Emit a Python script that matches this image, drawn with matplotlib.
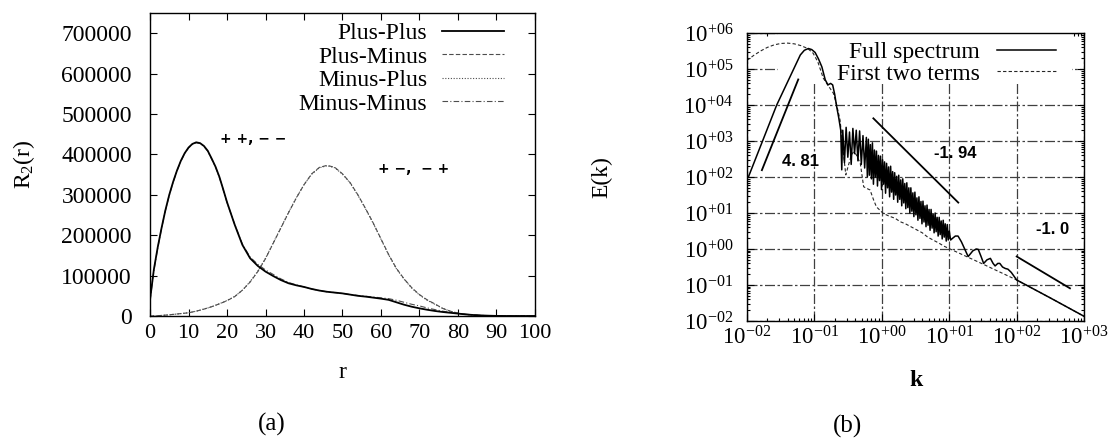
import numpy as np
import matplotlib.pyplot as plt
from matplotlib.patches import Rectangle
from matplotlib.ticker import LogLocator, FuncFormatter, NullFormatter, MultipleLocator

plt.rcParams['font.family'] = ['Liberation Serif', 'DejaVu Serif']
plt.rcParams['mathtext.fontset'] = 'custom'
plt.rcParams['mathtext.rm'] = 'Liberation Serif'
plt.rcParams['mathtext.it'] = 'Liberation Serif:italic'

# ---- panel (a): R2(r) ----
r = [0, 1, 2, 3, 4, 5, 6, 7, 8, 9, 10, 11, 12, 13, 14, 15, 16, 17, 18, 19, 20,
     22, 24, 26, 28, 30, 32, 34, 36, 38, 40, 42, 44, 46, 48, 50, 52, 54, 56, 58, 60,
     62, 64, 66, 68, 70, 72, 74, 76, 78, 80, 82, 84, 86, 88, 90, 92, 94, 96, 98, 100]

plus_plus = [40000, 115000, 170000, 218000, 262000, 300000, 332000, 360000, 384000, 403000, 417000,
             426000, 430000, 428000, 421000, 409000, 390000, 370000, 345000, 314000, 282000,
             226000, 176000, 143000, 124000, 110000, 99000, 89000, 81000, 76000, 72000,
             67000, 63000, 60000, 58000, 56000, 53000, 50000, 48000, 45500, 43000,
             40000, 34000, 28000, 23000, 19000, 15500, 12500, 10000, 8000, 6000,
             4000, 2500, 1500, 800, 300, 100, 0, 0, 0, 0]
minus_minus = [38000, 112000, 168000, 217000, 261000, 299000, 331000, 359000, 383000, 402000, 416000,
               425000, 429000, 427000, 420000, 408000, 389000, 369000, 344000, 313000, 281000,
               227000, 178000, 146000, 128000, 114000, 103000, 92000, 83000, 77000, 72000,
               67000, 63000, 60000, 58000, 56000, 53000, 51000, 49000, 47000, 45000,
               43000, 39000, 34000, 29000, 25000, 20000, 16000, 12000, 9000, 6500,
               4500, 2800, 1600, 800, 300, 100, 0, 0, 0, 0]
plus_minus = [0, 300, 800, 1500, 2200, 3000, 4000, 5000, 6000, 7000, 8000,
              10000, 12000, 14500, 17000, 20000, 23000, 26500, 30000, 34000, 38000,
              48000, 64000, 84000, 110000, 142000, 180000, 218000, 256000, 292000, 325000,
              352000, 368000, 373000, 368000, 352000, 330000, 300000, 266000, 230000, 191000,
              152000, 118000, 92000, 70000, 53000, 40000, 30000, 19000, 12000, 7000,
              4000, 2200, 1300, 700, 300, 100, 0, 0, 0, 0]
minus_plus = [0, 300, 800, 1500, 2200, 3000, 4000, 5000, 6000, 7000, 8200,
              10000, 12000, 14500, 17500, 20000, 23000, 26500, 30500, 34000, 38500,
              48500, 64000, 85000, 111000, 143000, 181000, 219000, 257000, 293000, 325000,
              351000, 367000, 372000, 367000, 351000, 329000, 299000, 265000, 229000, 190000,
              151000, 117000, 91000, 69000, 52000, 39000, 29000, 19000, 12000, 7000,
              4000, 2200, 1300, 700, 300, 100, 0, 0, 0, 0]

# ---- panel (b): E(k), values read as log10 ----
full_logk = [-1.98, -1.56, -1.21, -1.15, -1.09, -1.04, -0.99, -0.94, -0.89, -0.84, -0.80, -0.76,
             -0.73, -0.70, -0.67, -0.64, -0.61,
             -0.595, -0.58, -0.555, -0.53, -0.505, -0.48, -0.455, -0.43, -0.405, -0.38, -0.355,
             -0.33, -0.305, -0.28, -0.255, -0.23,
             -0.215, -0.200, -0.185, -0.170, -0.155, -0.140, -0.125, -0.110, -0.095, -0.080,
             -0.065, -0.050, -0.035, -0.020, -0.005, 0.010, 0.025, 0.040, 0.055, 0.070,
             0.085, 0.100, 0.115, 0.130, 0.145, 0.160, 0.175, 0.190, 0.205, 0.220,
             0.235, 0.250, 0.265, 0.280, 0.295, 0.310, 0.325, 0.340, 0.355, 0.370,
             0.385, 0.400, 0.415, 0.430, 0.445, 0.460, 0.475, 0.490, 0.505, 0.520,
             0.535, 0.550, 0.565, 0.580, 0.595, 0.610, 0.625, 0.640, 0.655, 0.670,
             0.685, 0.700, 0.715, 0.730, 0.745, 0.760, 0.775, 0.790, 0.805, 0.820,
             0.835, 0.850, 0.865, 0.880, 0.895, 0.910, 0.925, 0.940, 0.955, 0.970,
             0.985, 1.000,
             1.02, 1.05, 1.09, 1.13, 1.18, 1.24, 1.28, 1.35, 1.40, 1.43, 1.47, 1.51,
             1.56, 1.61, 1.65, 1.68, 1.72, 1.75, 1.79, 1.83, 1.87, 1.92, 2.00, 2.50, 3.01]
full_logE = [2.00, 4.00, 5.39, 5.52, 5.57, 5.54, 5.46, 5.28, 5.06, 4.70, 4.56, 4.60,
             4.56, 4.30, 3.95, 3.65, 3.30,
             2.20, 3.30, 2.40, 3.38, 2.55, 3.25, 2.35, 3.35, 2.65, 3.30, 2.45,
             3.28, 2.35, 3.15, 2.25, 3.10,
             2.00, 3.05, 2.05, 2.90, 1.95, 2.95, 1.80, 2.75, 2.00, 2.72,
             1.75, 2.60, 1.90, 2.58, 1.65, 2.48, 1.80, 2.42, 1.55, 2.38,
             1.70, 2.28, 1.45, 2.30, 1.58, 2.15, 1.38, 2.12, 1.50, 2.02,
             1.30, 2.05, 1.38, 1.92, 1.20, 1.95, 1.28, 1.82, 1.12, 1.84,
             1.15, 1.70, 1.00, 1.70, 1.05, 1.56, 0.90, 1.58, 0.95, 1.42,
             0.80, 1.45, 0.85, 1.32, 0.70, 1.33, 0.75, 1.20, 0.62, 1.22,
             0.66, 1.10, 0.52, 1.10, 0.58, 0.98, 0.45, 1.00, 0.48, 0.88,
             0.36, 0.88, 0.40, 0.78, 0.28, 0.80, 0.33, 0.70, 0.22, 0.68,
             0.25, 0.50,
             0.25, 0.30, 0.36, 0.36, 0.20, -0.05, -0.21, -0.05, 0.00, -0.01, -0.20, -0.40,
             -0.30, -0.26, -0.40, -0.47, -0.40, -0.40, -0.50, -0.54, -0.56, -0.65, -0.86, -1.36, -1.88]

two_logk = [-2.0, -1.9, -1.8, -1.7, -1.6, -1.5, -1.4, -1.3, -1.2, -1.1, -1.02, -0.95, -0.87,
            -0.80, -0.72, -0.67, -0.62, -0.57, -0.535, -0.50, -0.45, -0.42, -0.38, -0.32,
            -0.27, -0.22, -0.175, -0.12, -0.08, 0.02, 0.10, 0.20, 0.27, 0.35, 0.45, 0.52,
            0.60, 0.68, 0.76, 0.85, 0.92, 0.99, 1.50, 2.00, 2.50, 3.01]
two_logE = [5.24, 5.38, 5.50, 5.60, 5.67, 5.71, 5.72, 5.70, 5.65, 5.57, 5.44, 5.20, 4.75,
            4.55, 4.33, 4.00, 3.58, 2.66, 2.06, 2.30, 2.62, 2.70, 2.62, 2.38,
            1.73, 1.68, 1.64, 1.35, 1.17, 0.99, 0.92, 0.85, 0.76, 0.70, 0.60, 0.53,
            0.45, 0.33, 0.25, 0.16, 0.08, 0.02, -0.42, -0.86, -1.36, -1.88]

# power-law guide lines (endpoints) and their slope labels
slope_k = [[0.0166, 0.0575], [0.748, 13.6], [100, 617]]
slope_E = [[155, 51300], [4270, 19.5], [0.62, 0.081]]
slope_text = ['4. 81', '-1. 94', '-1. 0']
slope_text_k = [0.0617, 12.3, 339]
slope_text_E = [269, 457, 3.4]

fig = plt.figure(figsize=(11.12, 4.41), dpi=100)

# ---------------- (a) ----------------
ax1 = fig.add_axes([0.1349, 0.2834, 0.3462, 0.687])
ax1.plot(r, plus_plus, color='black', lw=1.3, ls='-', label='Plus-Plus', zorder=3)
ax1.plot(r, plus_minus, color='0.3', lw=0.8, ls=(0, (4, 2)), label='Plus-Minus')
ax1.plot(r, minus_plus, color='0.3', lw=0.8, ls=(0, (1, 1.5)), label='Minus-Plus')
ax1.plot(r, minus_minus, color='0.3', lw=0.8, ls=(0, (5, 2, 1, 2)), label='Minus-Minus')
ax1.set_xlim(0, 100)
ax1.set_ylim(0, 750000)
ax1.xaxis.set_major_locator(MultipleLocator(10))
ax1.yaxis.set_major_locator(MultipleLocator(100000))
ax1.yaxis.set_major_formatter(FuncFormatter(lambda v, p: '%d' % v if v <= 700000 else ''))
ax1.tick_params(direction='in', top=True, right=True, length=5, width=0.8)
ax1.tick_params(axis='x', labelsize=16, pad=6)
ax1.tick_params(axis='y', labelsize=17, pad=13)
for s in ax1.spines.values():
    s.set_linewidth(1.0)
ax1.set_xlabel('r', fontsize=17, va='center')
ax1.xaxis.set_label_coords(0.5, -0.188)
ax1.set_ylabel('R$_2$(r)', fontsize=17, va='center')
ax1.yaxis.set_label_coords(-0.327, 0.5)
ax1.legend(loc='upper right', bbox_to_anchor=(0.919, 0.968), markerfirst=False, frameon=False,
           fontsize=17, handlelength=2.6, handletextpad=0.65, labelspacing=0.08,
           borderpad=0, borderaxespad=0)
ann_font = dict(ha='center', va='center', fontsize=10, fontweight='bold',
                family=['DejaVu Sans'])
ax1.text(26.7, 438000, '+ +, \u2212 \u2212', **ann_font)
ax1.text(68.5, 363000, '+ \u2212,  \u2212 +', **ann_font)

# ---------------- (b) ----------------
ax2 = fig.add_axes([0.6718, 0.2721, 0.3031, 0.653])
ax2.set_xscale('log')
ax2.set_yscale('log')
ax2.set_xlim(1e-2, 1e3)
ax2.set_ylim(1e-2, 1e6)
ax2.set_axisbelow(True)
ax2.grid(True, which='major', color='0.25', lw=0.9, ls=(0, (8, 2, 2, 2)))
ax2.add_patch(Rectangle((0.092, 0.826), 0.872, 0.174, transform=ax2.transAxes,
                        facecolor='white', edgecolor='none', zorder=1))

ax2.plot(10 ** np.array(full_logk), 10 ** np.array(full_logE), color='black', lw=1.1,
         label='Full spectrum', zorder=3)
ax2.plot(10 ** np.array(two_logk), 10 ** np.array(two_logE), color='0.15', lw=0.8,
         ls=(0, (3, 2)), label='First two terms', zorder=2)
for ks, es in zip(slope_k, slope_E):
    ax2.plot(ks, es, color='black', lw=1.3, zorder=3)
for t, tk, te in zip(slope_text, slope_text_k, slope_text_E):
    ax2.text(tk, te, t, ha='center', va='center', fontsize=12, fontweight='bold',
             family=['Liberation Sans', 'DejaVu Sans'], zorder=4)

decade_fmt = FuncFormatter(lambda v, p: r'$\mathregular{10^{%+03d}}$' % int(round(np.log10(v))))
for axis in (ax2.xaxis, ax2.yaxis):
    axis.set_major_locator(LogLocator(base=10, numticks=20))
    axis.set_minor_locator(LogLocator(base=10, subs=np.arange(2, 10), numticks=20))
    axis.set_major_formatter(decade_fmt)
    axis.set_minor_formatter(NullFormatter())
ax2.tick_params(which='both', direction='in', top=True, right=True, width=0.8)
ax2.tick_params(which='major', length=5)
ax2.tick_params(which='minor', length=2.5)
ax2.tick_params(axis='x', labelsize=16.5, pad=4)
ax2.tick_params(axis='y', labelsize=16.5, pad=10)
for s in ax2.spines.values():
    s.set_linewidth(1.0)
ax2.set_xlabel('k', fontsize=17, fontweight='bold', va='center')
ax2.xaxis.set_label_coords(0.5, -0.205)
ax2.set_ylabel('E(k)', fontsize=17, va='center')
ax2.yaxis.set_label_coords(-0.43, 0.5)
ax2.legend(loc='upper right', bbox_to_anchor=(0.917, 0.97), markerfirst=False, frameon=False,
           fontsize=17, handlelength=2.5, handletextpad=0.75, labelspacing=0.0,
           borderpad=0, borderaxespad=0)

fig.text(0.2446, 0.0385, '(a)', ha='center', va='center', fontsize=18)
fig.text(0.7617, 0.032, '(b)', ha='center', va='center', fontsize=18)

fig.savefig('out.png', dpi=100)
